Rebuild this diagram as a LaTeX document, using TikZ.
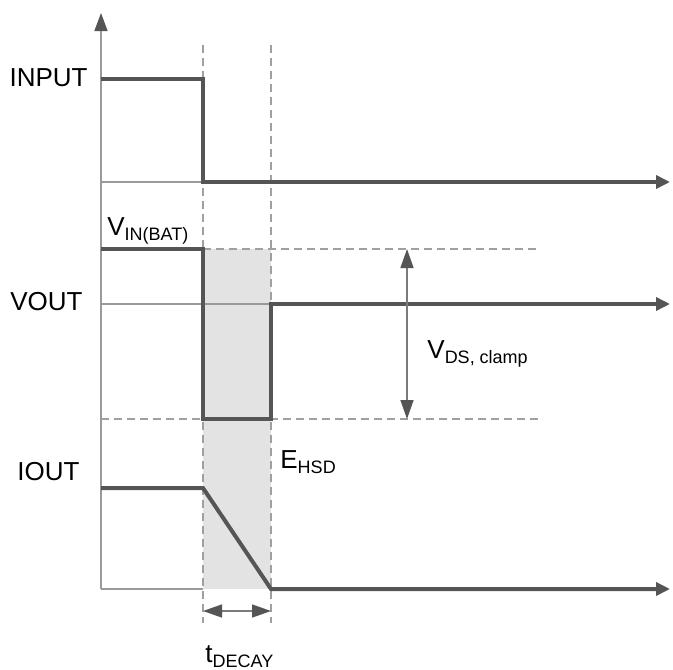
\documentclass[tikz,border=0pt]{standalone}
\usepackage{fontspec}
\setmainfont{Liberation Sans}
\usepackage{tikz}
\usetikzlibrary{arrows.meta,positioning}

\definecolor{wave}{HTML}{555555}
\definecolor{axis}{HTML}{9A9A9A}
\definecolor{guide}{HTML}{A0A0A0}
\definecolor{decaygray}{HTML}{E3E3E3}

\newcommand\lowsub[1]{\raisebox{-2.5pt}{\fontsize{9}{10}\selectfont #1}}

\tikzset{
	tip/.style={-{Triangle[length=7pt,width=6.5pt,color=wave]}},
	uptip/.style={-{Triangle[length=9pt,width=6.5pt,color=wave]}},
	twotip/.style={{Triangle[length=9.5pt,width=6.5pt,color=wave]}-{Triangle[length=9.5pt,width=6.5pt,color=wave]}},
	sig/.style={draw=wave, line width=2pt, line join=miter},
	base/.style={draw=axis, line width=0.75pt},
	guideline/.style={draw=guide, line width=0.75pt, dash pattern=on 4pt off 2.5pt},
	lbl/.style={inner sep=0pt, font=\fontsize{13}{15}\selectfont}
}

\begin{document}
\begin{tikzpicture}[x=0.5pt, y=-0.5pt]
		\useasboundingbox (0,0) rectangle (673,669);
		
		% Draw the shaded decay region
		\fill[decaygray] (203,249) rectangle (271,589);
		
		% Draw the dashed guide lines
		\draw[guideline] (203,45) -- (203,623);
		\draw[guideline] (271,45) -- (271,623);
		\draw[guideline] (203,249) -- (540,249);
		\draw[guideline] (101,419) -- (540,419);
		
		% Draw the vertical axis
		\coordinate (axbot) at (101,589);
		\coordinate (axtop) at (101,13);
		\draw[base, uptip] (axbot) -- (axtop);
		
		% Draw the INPUT trace
		\draw[base] (101,182) -- (203,182);
		\draw[sig, tip] (101,79) -- (203,79) -- (203,182) -- (670,182);
		\node (input) [lbl, anchor=east] at (88,78) {INPUT};
		
		% Draw the VOUT trace
		\draw[base] (101,304) -- (271,304);
		\draw[sig, tip] (101,249) -- (203,249) -- (203,419) -- (271,419) -- (271,304) -- (670,304);
		\node (vout) [lbl, anchor=east] at (83,302) {VOUT};
		\node (vin) [lbl, anchor=base west] at (107,235) {V\lowsub{IN(BAT)}};
		
		% Draw the IOUT trace
		\draw[base] (101,589) -- (203,589);
		\draw[sig, tip] (101,488) -- (203,488) -- (271,589) -- (670,589);
		\node (iout) [lbl, anchor=east] at (80,472) {IOUT};
		\node (ehsd) [lbl, anchor=base west] at (280,468) {E\lowsub{HSD}};
		
		% Draw the clamp voltage span
		\coordinate (vtop) at (407,249);
		\coordinate (vbot) at (407,419);
		\draw[base, draw=axis!80!black, twotip] (vtop) -- (vbot);
		\node (vds) [lbl, anchor=base west] at (427,358) {V\lowsub{DS, clamp}};
		
		% Draw the decay time span
		\coordinate (dleft) at (203,611);
		\coordinate (dright) at (271,611);
		\draw[base, draw=axis!80!black, twotip] (dleft) -- (dright);
		\node (tdecay) [lbl, anchor=base west] at (205,662) {t\lowsub{DECAY}};
	\end{tikzpicture}
\end{document}
